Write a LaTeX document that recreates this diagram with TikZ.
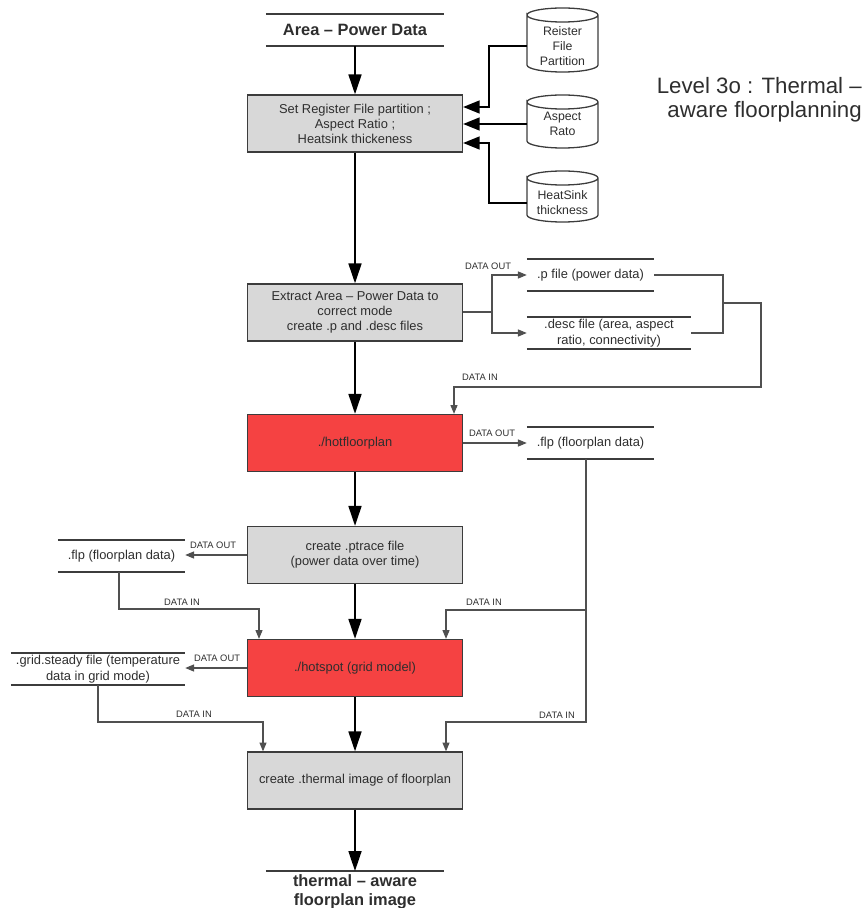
\documentclass[tikz,border=0pt]{standalone}
\usepackage{fontspec}
\setmainfont{Liberation Sans}
\usetikzlibrary{arrows.meta,calc}

\definecolor{procgray}{HTML}{D8D8D8}
\definecolor{procred}{HTML}{F54242}
\definecolor{edgegray}{HTML}{3C3C3C}
\definecolor{ink}{HTML}{2E2E2E}
\definecolor{wire}{HTML}{505050}

\newcommand\fs[2]{\fontsize{#1}{#2}\selectfont}

% drum outline: centre x, top y, bottom y (picture units)
\newcommand\drumshape[3]{%
  \draw[drum] ({#1-35.5},{#2+7}) arc[start angle=180,end angle=-180,x radius=1.065cm,y radius=0.21cm]
    -- ({#1-35.5},{#3-7}) arc[start angle=180,end angle=360,x radius=1.065cm,y radius=0.21cm]
    -- ({#1+35.5},{#2+7});}

\begin{document}
\begin{tikzpicture}[x=0.03cm,y=-0.03cm,
  proc/.style={draw=edgegray,line width=1.1pt,fill=procgray,minimum width=6.45cm,
    minimum height=1.71cm,inner sep=0pt,align=center,text=ink,font=\fs{11}{12.75}},
  hotproc/.style={proc,fill=procred},
  storeline/.style={draw=edgegray,line width=1.3pt},
  store/.style={minimum width=#1*0.03cm,minimum height=0.96cm,inner sep=0pt,
    align=center,text=ink,font=\fs{11}{13.6},
    append after command={(\tikzlastnode.north west) edge[storeline] (\tikzlastnode.north east)
                          (\tikzlastnode.south west) edge[storeline] (\tikzlastnode.south east)}},
  drum/.style={draw=edgegray,line width=1.1pt,fill=white},
  drumtext/.style={minimum width=2.13cm,inner sep=0pt,align=center,text=ink,font=\fs{10.5}{12.75}},
  flow/.style={draw=black,line width=1.7pt,-{Triangle[length=17pt,width=11pt]}},
  feed/.style={draw=black,line width=1.3pt,-{Triangle[length=14pt,width=11pt]}},
  data/.style={draw=wire,line width=0.9pt},
  dataarrow/.style={data,-{Triangle[length=7.5pt,width=6pt]}},
  tag/.style={font=\fs{8}{9},text=ink,inner sep=0pt}]

\useasboundingbox (0,0) rectangle (866,908);

% title
\node[anchor=east,align=right,font=\fs{19}{20.4},text=ink,inner sep=0pt] (title) at (862,100)
  {Level 3o : Thermal –\\aware floorplanning};

% process boxes
\node[store=178,font=\bfseries\fs{14}{16}] (area) at (355,30) {Area – Power Data};
\node[proc] (set) at (355,123.5) {Set Register File partition ;\\Aspect Ratio ;\\Heatsink thickeness};
\node[proc] (extract) at (355,312.5) {Extract Area – Power Data to\\correct mode\\create .p and .desc files};
\node[hotproc] (hotfp) at (355,443) {./hotfloorplan};
\node[proc] (ptrace) at (355,555) {create .ptrace file\\(power data over time)};
\node[hotproc] (hotspot) at (355,668) {./hotspot (grid model)};
\node[proc] (thermal) at (355,780.5) {create .thermal image of floorplan};
\node[anchor=north,align=center,font=\bfseries\fs{14}{16},text=ink,inner xsep=0pt,inner ysep=3pt,
  minimum width=178*0.03cm,
  append after command={(\tikzlastnode.north west) edge[storeline] (\tikzlastnode.north east)}]
  (final) at (355,871) {thermal – aware\\floorplan image};

% input drums
\drumshape{562.5}{8}{72}
\drumshape{562.5}{95}{148}
\drumshape{562.5}{171}{222}
\node[drumtext] (rfp) at (562.5,46) {Reister\\File\\Partition};
\node[drumtext] (asp) at (562.5,124) {Aspect\\Rato};
\node[drumtext] (hs) at (562.5,203) {HeatSink\\thickness};

% data stores
\node[store=127] (pfile) at (590.5,275) {.p file (power data)};
\node[store=164] (desc) at (609,333) {.desc file (area, aspect\\ratio, connectivity)};
\node[store=127] (flpR) at (590.5,443) {.flp (floorplan data)};
\node[store=127] (flpL) at (121.5,556) {.flp (floorplan data)};
\node[store=174] (grid) at (98,669) {.grid.steady file (temperature\\data in grid mode)};

% main flow
\draw[flow] (area.south) -- (set.north);
\draw[flow] (set.south) -- (extract.north);
\draw[flow] (extract.south) -- (hotfp.north);
\draw[flow] (hotfp.south) -- (ptrace.north);
\draw[flow] (ptrace.south) -- (hotspot.north);
\draw[flow] (hotspot.south) -- (thermal.north);
\draw[flow] (thermal.south) -- (final.north);

% drum inputs
\coordinate (jr) at (489,107);
\coordinate (jh) at (489,143);
\draw[feed] (rfp.west) -| (jr) -- (set.east |- jr);
\draw[feed] (asp.west) -- (set.east |- asp.west);
\draw[feed] (hs.west) -| (jh) -- (set.east |- jh);

% extract -> .p / .desc
\coordinate (jx) at (492,312);
\draw[data] (extract.east |- jx) -- (jx);
\draw[dataarrow] (jx) |- (pfile.west);
\draw[dataarrow] (jx) |- (desc.west);
\node[tag] (t1) at (488,266) {DATA OUT};

% .p / .desc -> hotfloorplan
\coordinate (jq) at (723,303);
\coordinate (jb) at (761,387);
\draw[data] (pfile.east) -| (jq) |- (desc.east);
\draw[dataarrow] (jq) -| (jb) -| (454,0 |- hotfp.north);
\node[tag] (t2) at (480,377) {DATA IN};

% hotfloorplan -> .flp
\draw[dataarrow] (hotfp.east) -- (flpR.west);
\node[tag] (t3) at (492,433) {DATA OUT};

% .flp -> hotspot, thermal
\coordinate (r1) at (586,610);
\coordinate (r2) at (586,722);
\draw[dataarrow] (586,0 |- flpR.south) -- (r1) -| (446,0 |- hotspot.north);
\draw[dataarrow] (r1) -- (r2) -| (446,0 |- thermal.north);
\node[tag] (t4) at (484,602) {DATA IN};
\node[tag] (t5) at (557,715) {DATA IN};

% ptrace -> .flp (left)
\draw[dataarrow] (ptrace.west) -- (flpL.east |- ptrace.west);
\node[tag] (t6) at (213,545) {DATA OUT};

% .flp (left) -> hotspot
\coordinate (l1) at (119,609);
\draw[dataarrow] (119,0 |- flpL.south) -- (l1) -| (259,0 |- hotspot.north);
\node[tag] (t7) at (182,602) {DATA IN};

% hotspot -> .grid.steady
\draw[dataarrow] (hotspot.west) -- (grid.east |- hotspot.west);
\node[tag] (t8) at (217,658) {DATA OUT};

% .grid.steady -> thermal
\coordinate (l2) at (98,722);
\draw[dataarrow] (grid.south) -- (l2) -| (263,0 |- thermal.north);
\node[tag] (t9) at (194,714) {DATA IN};

\end{tikzpicture}
\end{document}
